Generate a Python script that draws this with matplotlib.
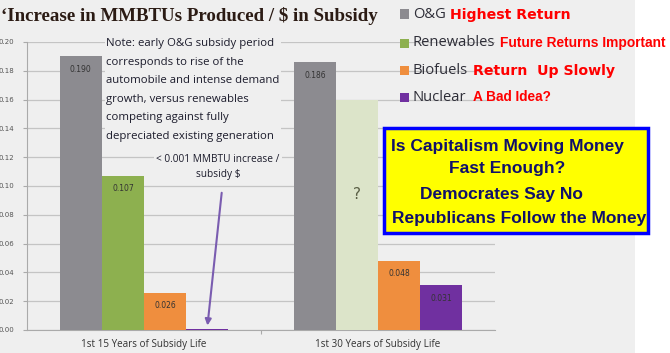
import matplotlib.pyplot as plt
from matplotlib.patches import Rectangle
import numpy as np

# chart data
periods = ['1st 15 Years of Subsidy Life', '1st 30 Years of Subsidy Life']
sources = ['O&G', 'Renewables', 'Biofuels', 'Nuclear']
values_15 = [0.190, 0.107, 0.026, 0.0005]
values_30 = [0.186, 0.160, 0.048, 0.031]
labels_15 = ['0.190', '0.107', '0.026', '']
labels_30 = ['0.186', '?', '0.048', '0.031']
legend_notes = ['Highest Return', 'Future Returns Important', 'Return  Up Slowly', 'A Bad Idea?']
yticks = [0.00, 0.02, 0.04, 0.06, 0.08, 0.10, 0.12, 0.14, 0.16, 0.18, 0.20]

colors = ['#8c8b90', '#8db04f', '#ef8e3e', '#7030a0']
colors_30 = ['#8c8b90', '#dce4c9', '#ef8e3e', '#7030a0']
BG = '#efefef'

W, H = 670, 353
fig = plt.figure(figsize=(6.7, 3.53), dpi=100)
fig.patch.set_facecolor('white')
# light grey slide background
fig.add_artist(Rectangle((0, 0), 635 / W, 1, transform=fig.transFigure,
                         facecolor=BG, edgecolor='none', zorder=0))

def fx(px):
    return px / W

def fy(py):
    return 1 - py / H

ax = fig.add_axes([fx(27), fy(330), fx(495) - fx(27), fy(42) - fy(330)])
ax.set_facecolor(BG)
ax.set_xlim(-0.5, 1.5)
ax.set_ylim(0, 0.20)

w = 0.18
offsets = (np.arange(4) - 1.5) * w
x = np.arange(len(periods))
for i in range(4):
    ax.bar(x[0] + offsets[i], values_15[i], w, color=colors[i], zorder=3)
    ax.bar(x[1] + offsets[i], values_30[i], w, color=colors_30[i], zorder=3)
    if labels_15[i]:
        ax.annotate(labels_15[i], (x[0] + offsets[i], values_15[i]), xytext=(0, -13),
                    textcoords='offset pixels', ha='center', va='center',
                    fontsize=5.5, color='#333333', zorder=4)
    if labels_30[i] == '?':
        ax.text(x[1] + offsets[i], 0.094, '?', ha='center', va='center',
                fontsize=11, color='#5a5f45', zorder=4)
    else:
        ax.annotate(labels_30[i], (x[1] + offsets[i], values_30[i]), xytext=(0, -13),
                    textcoords='offset pixels', ha='center', va='center',
                    fontsize=5.5, color='#333333', zorder=4)

ax.set_yticks(yticks)
ax.set_yticklabels([f'{v:.2f}' for v in yticks], fontsize=5, color='#555555')
ax.yaxis.grid(True, color='#c4c4c4', linewidth=0.9, zorder=1)
ax.set_axisbelow(True)
ax.set_xticks([0.5])
ax.set_xticklabels([''])
ax.tick_params(axis='x', length=3, color='#aaaaaa')
ax.tick_params(axis='y', length=3, color='#aaaaaa', pad=6)
for s in ['top', 'right']:
    ax.spines[s].set_visible(False)
for s in ['left', 'bottom']:
    ax.spines[s].set_color('#aaaaaa')
for xi, p in zip(x, periods):
    ax.text(xi, -0.0098, p, ha='center', va='center', fontsize=7.1,
            family='Open Sans', color='#333333')

# title
fig.text(fx(1), fy(16), '\u2018Increase in MMBTUs Produced / $ in Subsidy', ha='left',
         va='center', fontsize=13.6, fontweight='bold', family='Liberation Serif',
         color='#2b1b14')

# legend with red notes
leg_y = [14, 43, 70, 97]
note_x = [450, 500, 473, 473]
note_font = ['DejaVu Sans', 'Liberation Sans', 'DejaVu Sans', 'Liberation Sans']
note_size = [10.2, 9.9, 10.2, 9.8]
for i in range(4):
    fig.add_artist(Rectangle((fx(400), fy(leg_y[i] + 4.5)), 9 / W, 9 / H,
                             transform=fig.transFigure, facecolor=colors[i],
                             edgecolor='none'))
    fig.text(fx(413), fy(leg_y[i]), sources[i], ha='left', va='center', fontsize=10.6,
             family='Open Sans', color='#2e2e38')
    fig.text(fx(note_x[i]), fy(leg_y[i] + 0.5), legend_notes[i], ha='left', va='center',
             fontsize=note_size[i], fontweight='bold', family=note_font[i],
             color='#ff0000')

# note box
note = ('Note: early O&G subsidy period\ncorresponds to rise of the\n'
        'automobile and intense demand\ngrowth, versus renewables\n'
        'competing against fully\ndepreciated existing generation')
fig.text(fx(106), fy(38), note, ha='left', va='top', fontsize=8.2, family='Open Sans',
         color='#1c1c2c', linespacing=1.95,
         bbox=dict(facecolor=BG, edgecolor='none', pad=1))
fig.text(fx(218), fy(154), '< 0.001 MMBTU increase /\nsubsidy $', ha='center', va='top',
         fontsize=7.3, family='Open Sans', color='#1c1c2c', linespacing=1.45,
         bbox=dict(facecolor=BG, edgecolor='none', pad=1.5))
ax.annotate('', xy=(offsets[3] + 0.0, 0.0012), xycoords='data',
            xytext=(fx(222), fy(190)), textcoords='figure fraction',
            arrowprops=dict(arrowstyle='-|>', color='#7a5cb0', lw=1.5,
                            mutation_scale=9), zorder=5)

# yellow callout
fig.add_artist(Rectangle((fx(384), fy(233)), (648 - 384) / W, (233 - 128) / H,
                         transform=fig.transFigure, facecolor='#ffff00',
                         edgecolor='#0000ff', linewidth=2.5, zorder=5))
call_lines = ['Is Capitalism Moving Money', 'Fast Enough?', 'Democrates Say No',
              'Republicans Follow the Money']
call_x = [391, 449, 420, 392]
call_y = [146, 169, 194, 218]
for t, cx, cy in zip(call_lines, call_x, call_y):
    fig.text(fx(cx), fy(cy), t, ha='left', va='center', fontsize=12.5,
             fontweight='bold', family='Liberation Sans',
             color='#10106a', zorder=6)

fig.savefig('out.png', dpi=100)
